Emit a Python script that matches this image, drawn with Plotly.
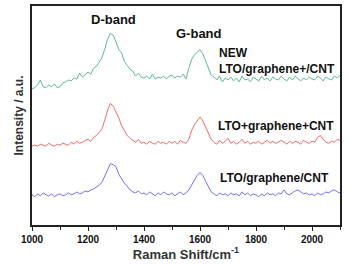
import plotly.graph_objects as go

wavenumber = list(range(1000, 2101, 10))

green_new = [
    140, 141, 144, 149, 142, 141, 144, 142, 145, 141,
    142, 146, 147, 149, 148, 151, 150, 156, 152, 155,
    157, 155, 161, 163, 167, 172, 181, 191, 197, 195,
    188, 180, 177, 168, 164, 160, 158, 153, 156, 152,
    151, 153, 150, 155, 150, 152, 151, 153, 150, 153,
    154, 151, 153, 152, 155, 150, 161, 170, 175, 178,
    180, 176, 168, 160, 154, 152, 149, 153, 147, 151,
    149, 152, 148, 151, 147, 153, 149, 150, 147, 152,
    150, 148, 153, 149, 151, 148, 152, 150, 149, 153,
    150, 148, 152, 149, 153, 150, 148, 151, 149, 152,
    150, 149, 153, 151, 148, 152, 150, 149, 153, 151,
    154,
]

red_plus = [
    81, 82, 81, 83, 82, 81, 84, 82, 81, 83,
    82, 84, 83, 82, 85, 83, 86, 84, 85, 87,
    88, 86, 90, 92, 95, 99, 108, 118, 125, 122,
    116, 110, 102, 97, 92, 89, 87, 85, 88, 84,
    85, 83, 86, 84, 83, 86, 84, 85, 83, 86,
    84, 86, 83, 87, 85, 84, 88, 97, 103, 107,
    111, 107, 100, 93, 88, 85, 83, 87, 84, 86,
    89, 84, 86, 83, 85, 88, 84, 86, 83, 85,
    84, 86, 83, 85, 87, 84, 86, 84, 85, 87,
    85, 83, 86, 84, 86, 85, 83, 87, 85, 84,
    86, 85, 90, 92, 88, 85, 84, 86, 85, 88,
    87,
]

blue_slash = [
    31, 29, 32, 30, 33, 31, 30, 32, 29, 31,
    32, 30, 31, 33, 31, 32, 34, 32, 33, 35,
    34, 36, 37, 39, 41, 44, 50, 57, 63, 62,
    60, 52, 47, 43, 40, 36, 34, 33, 35, 32,
    33, 31, 34, 32, 30, 33, 31, 34, 32, 31,
    33, 30, 32, 34, 31, 33, 36, 41, 47, 51,
    54, 51, 45, 39, 34, 32, 30, 33, 31, 32,
    30, 33, 31, 32, 30, 34, 31, 33, 30, 32,
    31, 29, 32, 30, 33, 31, 32, 30, 33, 32,
    36, 32, 31, 33, 35, 36, 34, 32, 33, 31,
    32, 30, 33, 31, 32, 34, 33, 35, 36, 34,
    33,
]

tick_vals = [1000, 1200, 1400, 1600, 1800, 2000]
tick_text = ["1000", "1200", "1400", "1600", "1800", "2000"]

series = [
    ("NEW LTO/graphene+/CNT", green_new, "#5fb89b"),
    ("LTO+graphene+CNT", red_plus, "#ee6b6b"),
    ("LTO/graphene/CNT", blue_slash, "#7272ee"),
]

fig = go.Figure()
for name, vals, col in series:
    fig.add_trace(go.Scatter(x=wavenumber, y=vals, mode="lines", name=name,
                             line=dict(color=col, width=1)))

FAM = "Liberation Sans, Arial, sans-serif"

labels = [
    ("D-band", 1290, 211, "center", 13),
    ("G-band", 1596, 197, "center", 13),
    ("NEW", 1661, 177, "left", 12),
    ("LTO/graphene+/CNT", 1660, 160, "left", 12),
    ("LTO+graphene+CNT", 1656, 102, "left", 12),
    ("LTO/graphene/CNT", 1663, 48, "left", 12),
]
for txt, x, y, anc, sz in labels:
    fig.add_annotation(x=x, y=y, text=txt, showarrow=False, xanchor=anc,
                       yanchor="middle",
                       font=dict(family=FAM, size=sz, color="#111", weight="bold"))

fig.update_layout(
    width=349, height=264,
    margin=dict(l=32, r=9, t=4, b=35),
    paper_bgcolor="white", plot_bgcolor="white",
    showlegend=False,
    xaxis=dict(
        range=[1000, 2100], tickvals=tick_vals, ticktext=tick_text,
        ticks="outside", ticklen=4, tickwidth=1, tickcolor="#222",
        minor=dict(dtick=100, tick0=1000, ticks="outside", ticklen=3, tickcolor="#222"),
        showgrid=False, zeroline=False,
        showline=True, mirror=True, linecolor="#222", linewidth=1.5,
        tickfont=dict(family=FAM, size=10, color="#111", weight="bold"),
        title=dict(text="Raman Shift/cm<sup>-1</sup>", standoff=6,
                   font=dict(family=FAM, size=13, color="#333", weight="bold")),
    ),
    yaxis=dict(
        range=[0, 225], showticklabels=False, ticks="",
        showgrid=False, zeroline=False,
        showline=True, mirror=True, linecolor="#222", linewidth=1.5,
        title=dict(text="Intensity / a.u.", standoff=4,
                   font=dict(family=FAM, size=12, color="#333", weight="bold")),
    ),
)

fig.write_html("out.html")
